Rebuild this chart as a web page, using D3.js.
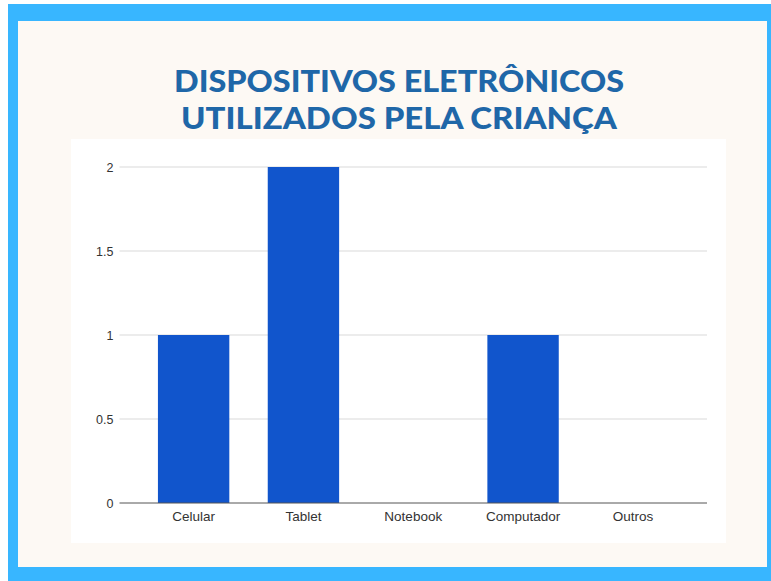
<!DOCTYPE html>
<html>
<head>
<meta charset="utf-8">
<script src="https://cdn.jsdelivr.net/npm/d3@7"></script>
<style>
  body { margin: 0; background: #fff; }
  svg { display: block; }
</style>
</head>
<body>
<svg id="chart"></svg>
<script>
const categorias = ["Celular", "Tablet", "Notebook", "Computador", "Outros"];
const quantidades = [1, 2, 0, 1, 0];
const ticksY = [0, 0.5, 1, 1.5, 2];
const tituloLinhas = ["DISPOSITIVOS ELETRÔNICOS", "UTILIZADOS PELA CRIANÇA"];

const W = 771, H = 581;
const svg = d3.select("#chart").attr("width", W).attr("height", H);

// moldura azul + fundo creme
svg.append("rect").attr("x", 8).attr("y", 4).attr("width", W - 8).attr("height", H - 4)
  .attr("fill", "#38b6ff");
svg.append("rect").attr("x", 18).attr("y", 21).attr("width", 749).attr("height", 546)
  .attr("fill", "#fdf9f4");

// titulo
const larguras = [450, 436];
svg.selectAll(".titulo")
  .data(tituloLinhas)
  .enter().append("text")
  .attr("class", "titulo")
  .attr("x", 399)
  .attr("y", function(d, i) { return 92 + i * 37; })
  .attr("text-anchor", "middle")
  .attr("textLength", function(d, i) { return larguras[i]; })
  .attr("lengthAdjust", "spacingAndGlyphs")
  .style("font-family", "Lato, sans-serif")
  .style("font-weight", "900")
  .style("font-size", "30px")
  .style("fill", "#1f67a8")
  .text(function(d) { return d; });

// painel branco
svg.append("rect").attr("x", 71).attr("y", 139).attr("width", 655).attr("height", 404)
  .attr("fill", "#fff");

const margin = { left: 119.5, right: 707, top: 167, bottom: 503 };

const x = d3.scaleBand()
  .domain(categorias)
  .range([margin.left, margin.right])
  .paddingInner(0.35)
  .paddingOuter(0.35);

const y = d3.scaleLinear()
  .domain([0, 2])
  .range([margin.bottom, margin.top]);

const g = svg.append("g");

// grade
g.selectAll(".grid")
  .data(ticksY.filter(function(d) { return d > 0; }))
  .enter().append("line")
  .attr("x1", margin.left).attr("x2", margin.right)
  .attr("y1", function(d) { return y(d); })
  .attr("y2", function(d) { return y(d); })
  .attr("stroke", "#d9d9d9")
  .attr("stroke-width", 1);

// barras
g.selectAll(".bar")
  .data(quantidades)
  .enter().append("rect")
  .attr("class", "bar")
  .attr("x", function(d, i) { return x(categorias[i]); })
  .attr("width", x.bandwidth())
  .attr("y", function(d) { return y(d); })
  .attr("height", function(d) { return y(0) - y(d); })
  .attr("fill", "#1155cc");

// eixo y
const eixoY = g.append("g")
  .attr("transform", "translate(" + margin.left + ",0)")
  .call(d3.axisLeft(y).tickValues(ticksY).tickFormat(d3.format("~g")).tickSize(0).tickPadding(6));
eixoY.select(".domain").remove();
eixoY.selectAll("text")
  .style("font-family", "'Liberation Sans', Arial, sans-serif")
  .style("font-size", "12.5px")
  .style("fill", "#333");

// eixo x
const eixoX = g.append("g")
  .attr("transform", "translate(0," + margin.bottom + ")")
  .call(d3.axisBottom(x).tickSize(0).tickPadding(8));
eixoX.select(".domain")
  .attr("d", "M" + margin.left + ",0H" + margin.right)
  .attr("stroke", "#555");
eixoX.selectAll("text")
  .style("font-family", "'Liberation Sans', Arial, sans-serif")
  .style("font-size", "13.5px")
  .style("fill", "#333");
</script>
</body>
</html>
